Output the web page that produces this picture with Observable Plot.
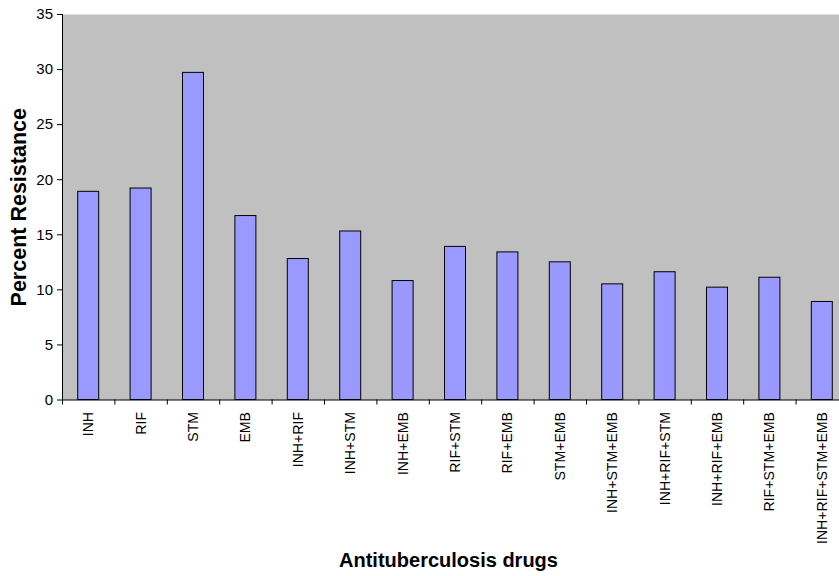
<!DOCTYPE html>
<html>
<head>
<meta charset="utf-8">
<script src="https://cdn.jsdelivr.net/npm/d3@7"></script>
<script src="https://cdn.jsdelivr.net/npm/@observablehq/plot@0.6"></script>
<style>
  html, body { margin: 0; padding: 0; background: white; overflow: hidden; }
</style>
</head>
<body>
<div id="chart"></div>
<script>
const categories = ["INH", "RIF", "STM", "EMB", "INH+RIF", "INH+STM", "INH+EMB", "RIF+STM",
  "RIF+EMB", "STM+EMB", "INH+STM+EMB", "INH+RIF+STM", "INH+RIF+EMB", "RIF+STM+EMB", "INH+RIF+STM+EMB"];
const values = [18.9, 19.2, 29.7, 16.7, 12.8, 15.3, 10.8, 13.9, 13.4, 12.5, 10.5, 11.6, 10.2, 11.1, 8.9];
const yTicks = [0, 5, 10, 15, 20, 25, 30, 35];
const yTitle = "Percent Resistance";
const xTitle = "Antituberculosis drugs";

const data = categories.map((c, i) => ({i, c, v: values[i]}));
const boundaries = d3.range(categories.length + 1);
const centers = categories.map((c, i) => i + 0.5);

const chart = Plot.plot({
  width: 839,
  height: 576,
  marginLeft: 62,
  marginRight: -9,
  marginTop: 14,
  marginBottom: 176.5,
  x: {domain: [0, categories.length]},
  y: {domain: [0, 35]},
  style: {fontFamily: "Arial, 'Liberation Sans', sans-serif", background: "white", color: "black"},
  marks: [
    Plot.frame({fill: "#c0c0c0", stroke: null}),
    Plot.rectY(data, {x1: "i", x2: d => d.i + 1, y: "v", fill: "#9999ff", stroke: "black", strokeWidth: 1, insetLeft: 15.7, insetRight: 15.7}),
    Plot.ruleX([0], {stroke: "black"}),
    Plot.ruleY([0], {stroke: "black"}),
    Plot.axisY({ticks: yTicks, tickSize: 5, tickPadding: 4.5, fontSize: 15, label: null}),
    Plot.axisX({ticks: boundaries, tickSize: 5, tickFormat: () => "", label: null}),
    Plot.axisX({ticks: centers, tickSize: 0, tickPadding: 12, tickRotate: -90, fontSize: 14.1,
      tickFormat: t => categories[Math.floor(t)], label: null}),
    Plot.text([yTitle], {text: d => d, frameAnchor: "left", textAnchor: "middle", rotate: -90, dx: -43.5, fontWeight: "bold", fontSize: 21.5}),
    Plot.text([xTitle], {text: d => d, frameAnchor: "bottom", dx: -7, dy: 167, fontWeight: "bold", fontSize: 20})
  ]
});
document.getElementById("chart").appendChild(chart);
</script>
</body>
</html>
